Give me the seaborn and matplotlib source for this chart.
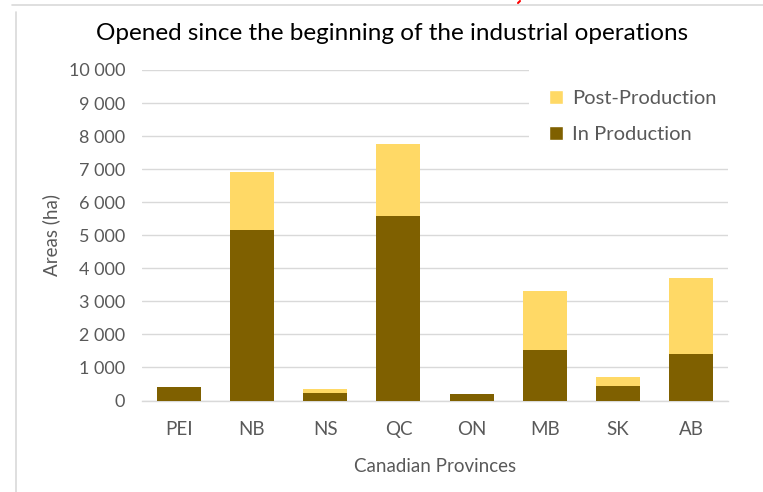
import matplotlib
matplotlib.use("Agg")
import matplotlib.pyplot as plt
import seaborn as sns
import pandas as pd
from matplotlib.patches import Patch
from matplotlib.lines import Line2D

provinces = ["PEI", "NB", "NS", "QC", "ON", "MB", "SK", "AB"]
in_production = [420, 5150, 230, 5580, 190, 1520, 440, 1400]
post_production = [0, 1750, 110, 2170, 0, 1780, 260, 2300]
yticks = [0, 1000, 2000, 3000, 4000, 5000, 6000, 7000, 8000, 9000, 10000]
ytick_labels = ["0", "1 000", "2 000", "3 000", "4 000", "5 000", "6 000",
                "7 000", "8 000", "9 000", "10 000"]

df = pd.DataFrame({"Province": provinces, "In": in_production, "Post": post_production})
df["Total"] = df["In"] + df["Post"]

DARK = "#7F6000"
LIGHT = "#FFD966"
GRAY = "#595959"

sns.set_theme(style="white")
plt.rcParams["font.family"] = ["Lato", "DejaVu Sans"]

fig = plt.figure(figsize=(7.63, 4.92), dpi=100)
ax = fig.add_axes([142/763, (492-400.5)/492, (728-142)/763, (400.5-70)/492])

sns.barplot(data=df, x="Province", y="Total", color=LIGHT, width=0.6, ax=ax,
            saturation=1, edgecolor="none", zorder=3)
sns.barplot(data=df, x="Province", y="In", color=DARK, width=0.6, ax=ax,
            saturation=1, edgecolor="none", zorder=4)

ax.set_ylim(0, 10000)
ax.set_xlim(-0.5, len(provinces) - 0.5)
ax.set_yticks(yticks)
ax.set_yticklabels(ytick_labels)
ax.yaxis.grid(True, color="#D9D9D9", linewidth=1, zorder=0)
ax.set_axisbelow(True)
for s in ["top", "right", "left"]:
    ax.spines[s].set_visible(False)
ax.spines["bottom"].set_color("#D9D9D9")
ax.spines["bottom"].set_linewidth(1)
ax.tick_params(axis="y", length=0, colors=GRAY, labelsize=13, pad=12)
ax.tick_params(axis="x", length=0, colors=GRAY, labelsize=13.5, pad=15)

ax.set_xlabel("Canadian Provinces", fontsize=13.5, color=GRAY, labelpad=14)
ax.set_ylabel("Areas (ha)", fontsize=13.5, color=GRAY, labelpad=6)

fig.text(392/763, 1 - 34/492, "Opened since the beginning of the industrial operations",
         ha="center", va="center", fontsize=17.5, color="black")

handles = [Patch(facecolor=LIGHT, label="Post-Production"),
           Patch(facecolor=DARK, label="In Production")]
leg = ax.legend(handles=handles, loc="upper right", bbox_to_anchor=(1.032, 1.031),
                frameon=True, facecolor="white", edgecolor="none", framealpha=1,
                fancybox=False, borderpad=1.0,
                fontsize=14.5, labelcolor=GRAY, handlelength=0.7,
                handleheight=0.7, handletextpad=0.45, labelspacing=0.95)
leg.set_zorder(5)

# screenshot frame lines
fig.add_artist(Line2D([16/763, 16/763], [0, 1 - 12/492], color="#D9D9D9", linewidth=1.2))
fig.add_artist(Line2D([12/763, 1], [1 - 5/492, 1 - 5/492], color="#D9D9D9", linewidth=1.2))
fig.add_artist(Line2D([518/763, 520/763], [1 - 3/492, 1 - 1/492], color="red", linewidth=1.5))

fig.savefig("out.png", dpi=100)
